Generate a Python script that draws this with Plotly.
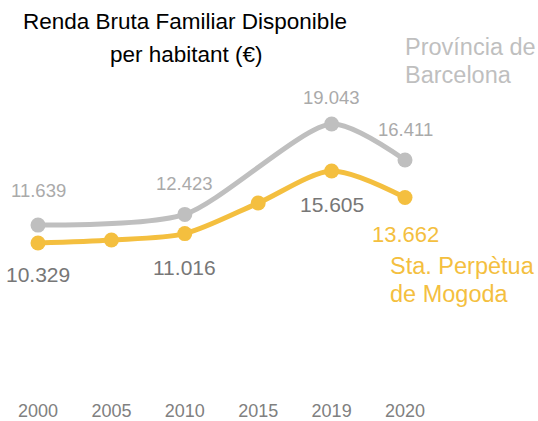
import plotly.graph_objects as go

years = ["2000", "2005", "2010", "2015", "2019", "2020"]
barcelona = [11639, None, 12423, None, 19043, 16411]
perpetua = [10329, 10550, 11016, 13260, 15605, 13662]

bcn_labels = ["11.639", None, "12.423", None, "19.043", "16.411"]
spm_labels = ["10.329", None, "11.016", None, "15.605", "13.662"]

GREY = "#bfbfbf"
YELLOW = "#f4bf3f"
FONT = "Liberation Sans, Arial, sans-serif"

fig = go.Figure()
fig.add_trace(go.Scatter(
    x=years, y=barcelona, mode="lines+markers", connectgaps=True,
    line=dict(color=GREY, width=5, shape="spline", smoothing=0.7),
    marker=dict(color=GREY, size=15), hoverinfo="skip"))
fig.add_trace(go.Scatter(
    x=years, y=perpetua, mode="lines+markers",
    line=dict(color=YELLOW, width=5, shape="spline", smoothing=0.8),
    marker=dict(color=YELLOW, size=15), hoverinfo="skip"))

ann = []
bcn_shift = [35, 0, 31, 0, 27, 30]
for i, lab in enumerate(bcn_labels):
    if lab:
        ann.append(dict(x=i, y=barcelona[i], xref="x", yref="y", text=lab,
                        showarrow=False, yshift=bcn_shift[i], yanchor="middle",
                        font=dict(family=FONT, size=18.5, color="#aaaaaa")))
spm_shift = [-31, 0, -34, 0, -34, -37]
spm_color = ["#777777", None, "#777777", None, "#777777", YELLOW]
spm_size = [21, None, 21, None, 21, 22]
for i, lab in enumerate(spm_labels):
    if lab:
        ann.append(dict(x=i, y=perpetua[i], xref="x", yref="y", text=lab,
                        showarrow=False, yshift=spm_shift[i], yanchor="middle",
                        font=dict(family=FONT, size=spm_size[i], color=spm_color[i])))

TITLE_FONT = dict(family=FONT, size=22.5, color="#000000")
ann.append(dict(x=185/538, y=(384-22)/384, xref="paper", yref="paper", text="Renda Bruta Familiar Disponible",
                showarrow=False, xanchor="center", yanchor="middle", font=TITLE_FONT))
ann.append(dict(x=186/538, y=(384-55)/384, xref="paper", yref="paper", text="per habitant (€)",
                showarrow=False, xanchor="center", yanchor="middle", font=TITLE_FONT))

for txt, px, py, col in [("Província de", 403, 47, GREY), ("Barcelona", 403, 75, GREY),
                         ("Sta. Perpètua", 388, 266, YELLOW), ("de Mogoda", 388, 294, YELLOW)]:
    ann.append(dict(x=px/538, y=(384-py)/384, xref="paper", yref="paper", text=txt,
                    showarrow=False, xanchor="left", yanchor="middle",
                    font=dict(family=FONT, size=23.5, color=col)))

fig.update_layout(
    width=538, height=421,
    margin=dict(l=0, r=0, t=0, b=37),
    paper_bgcolor="white", plot_bgcolor="white",
    showlegend=False,
    annotations=ann,
    xaxis=dict(type="category", range=[-0.518, 6.812], showgrid=False, zeroline=False,
               showline=False, ticks="", ticklabelstandoff=14,
               tickfont=dict(family=FONT, size=18, color="#808080")),
    yaxis=dict(range=[0, 28130], visible=False, showgrid=False, zeroline=False),
)

fig.write_html("out.html", config={"displayModeBar": False},
               post_script="document.body.style.margin='0';")
